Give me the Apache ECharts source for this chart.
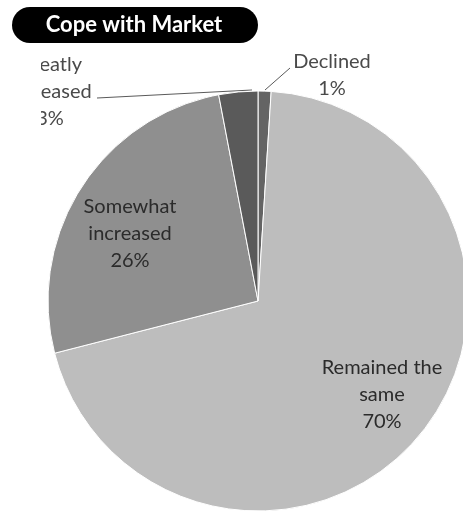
<!DOCTYPE html>
<html>
<head>
<meta charset="utf-8">
<title>Cope with Market</title>
<script src="https://cdn.jsdelivr.net/npm/echarts@6/dist/echarts.min.js"></script>
<style>
  html, body { margin: 0; padding: 0; background: #ffffff; }
  #chart { width: 463px; height: 513px; }
</style>
</head>
<body>
<div id="chart"></div>
<script>
// Survey answers, clockwise from twelve o'clock
const categories = ['Declined', 'Remained the\nsame', 'Somewhat\nincreased', 'Greatly\nincreased'];
const shares = [1, 70, 26, 3];
const sliceColors = ['#646464', '#bdbdbd', '#8f8f8f', '#5a5a5a'];

// Label placement (centre of each text block) and leader lines for the outer labels
const labelSpots = [[332, 75], [382, 395], [130, 234], [50, 92]];
const leaderLines = {
  0: [[265, 90], [290, 68]],
  3: [[252, 90], [97, 98]]
};

const labelFont = 'Lato, "Open Sans", sans-serif';

const chart = echarts.init(document.getElementById('chart'), null, { renderer: 'canvas' });

chart.setOption({
  animation: false,
  backgroundColor: '#ffffff',
  graphic: [
    {
      type: 'group',
      left: 12,
      top: 7,
      children: [
        {
          type: 'rect',
          shape: { x: 0, y: 0, width: 246, height: 36, r: 18 },
          style: { fill: '#000000' }
        },
        {
          type: 'text',
          x: 122,
          y: 18,
          style: {
            text: 'Cope with Market',
            fill: '#ffffff',
            font: 'bold 22px Lato, "Open Sans", sans-serif',
            textAlign: 'center',
            textVerticalAlign: 'middle'
          }
        }
      ]
    },
    {
      // the chart area begins at this margin; anything left of it is cropped away
      type: 'rect',
      z: 100,
      shape: { x: 0, y: 50, width: 41, height: 82 },
      style: { fill: '#ffffff' }
    }
  ],
  series: [
    {
      type: 'pie',
      center: [258, 301],
      radius: 210,
      startAngle: 90,
      clockwise: true,
      avoidLabelOverlap: false,
      itemStyle: { borderColor: '#ffffff', borderWidth: 1 },
      label: {
        show: true,
        position: 'outside',
        formatter: (p) => p.name + '\n' + p.value + '%',
        fontFamily: labelFont,
        fontSize: 20,
        lineHeight: 27,
        align: 'center',
        color: '#4a4a4a'
      },
      labelLine: {
        show: true,
        length: 8,
        length2: 8,
        lineStyle: { color: '#5a5a5a', width: 1 }
      },
      labelLayout: (params) => {
        const spot = labelSpots[params.dataIndex];
        const out = {
          x: spot[0],
          y: spot[1],
          align: 'center',
          verticalAlign: 'middle'
        };
        if (leaderLines[params.dataIndex]) {
          out.labelLinePoints = leaderLines[params.dataIndex];
        }
        return out;
      },
      data: shares.map((v, i) => {
        const inner = i === 1 || i === 2;
        return {
          name: categories[i],
          value: v,
          itemStyle: { color: sliceColors[i] },
          label: inner
            ? { position: 'inside', color: '#2b2b2b' }
            : { position: 'outside', color: '#4a4a4a' },
          labelLine: { show: !inner }
        };
      })
    }
  ]
});
</script>
</body>
</html>
